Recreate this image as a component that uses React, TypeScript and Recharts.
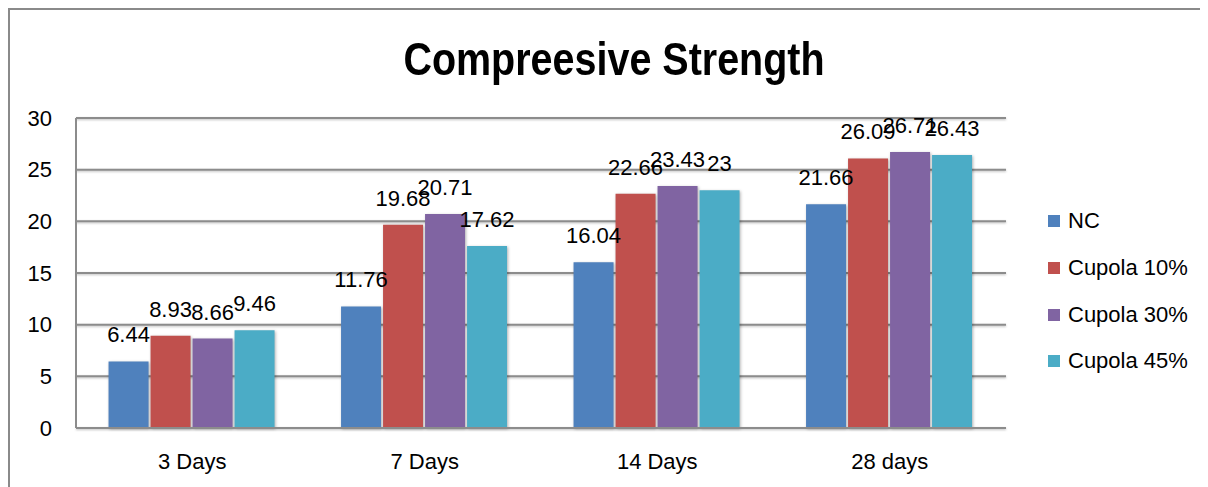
import { Bar, BarChart, CartesianGrid, LabelList, Legend, XAxis, YAxis } from 'recharts';

// ============ Data ============

const AGES = ['3 Days', '7 Days', '14 Days', '28 days'];
const NC = [6.44, 11.76, 16.04, 21.66];
const CUPOLA_10 = [8.93, 19.68, 22.66, 26.09];
const CUPOLA_30 = [8.66, 20.71, 23.43, 26.71];
const CUPOLA_45 = [9.46, 17.62, 23, 26.43];
const Y_TICKS = [0, 5, 10, 15, 20, 25, 30];

const SERIES = [
  { key: 'nc', name: 'NC', values: NC, color: '#4F81BD' },
  { key: 'c10', name: 'Cupola 10%', values: CUPOLA_10, color: '#C0504D' },
  { key: 'c30', name: 'Cupola 30%', values: CUPOLA_30, color: '#8064A2' },
  { key: 'c45', name: 'Cupola 45%', values: CUPOLA_45, color: '#4BACC6' },
];

const data = AGES.map((age, i) => {
  const row: Record<string, string | number> = { age };
  SERIES.forEach((s) => {
    row[s.key] = s.values[i];
  });
  return row;
});

const FONT = '"Liberation Sans", Arial, sans-serif';
const GRID = '#8c8c8c';

// ============ Legend ============

// keep the series order (recharts sorts the payload by name otherwise)
const LegendContent = () => (
  <ul style={{ listStyle: 'none', margin: 0, padding: 0, fontFamily: FONT, fontSize: 22, color: '#000' }}>
    {SERIES.map((s) => (
      <li key={s.key} style={{ height: 46.7, display: 'flex', alignItems: 'center', whiteSpace: 'nowrap' }}>
        <span style={{ width: 12, height: 12, background: s.color, display: 'inline-block', marginRight: 8 }} />
        {s.name}
      </li>
    ))}
  </ul>
);

// ============ Main ============

export default function App() {
  return (
    <div style={{ position: 'relative', width: 1200, height: 479, fontFamily: FONT }}>
      <style>{`
        .recharts-cartesian-grid-horizontal line { filter: drop-shadow(0 1.5px 1px rgba(0,0,0,0.25)); }
        .recharts-bar-rectangle path { filter: drop-shadow(1px 1px 1.5px rgba(0,0,0,0.3)); }
      `}</style>
      <div
        style={{
          position: 'absolute',
          left: 0,
          top: 0,
          width: 1200,
          height: 479,
          borderTop: '2px solid #8a8a8a',
          borderLeft: '2px solid #8a8a8a',
          boxSizing: 'border-box',
        }}
      />
      <div
        style={{
          position: 'absolute',
          left: 606 - 300,
          top: 27,
          width: 600,
          textAlign: 'center',
          fontSize: 47,
          lineHeight: '47px',
          fontWeight: 'bold',
          color: '#000',
          transform: 'scaleX(0.84)',
          whiteSpace: 'nowrap',
        }}
      >
        Compreesive Strength
      </div>
      <div style={{ position: 'absolute', left: 0, top: 0 }}>
        <BarChart
          width={1198}
          height={479}
          data={data}
          margin={{ top: 110, right: 200, bottom: 29, left: 0 }}
          barCategoryGap="14%"
          barGap={2}
        >
          <CartesianGrid vertical={false} stroke={GRID} strokeWidth={2} />
          <XAxis
            dataKey="age"
            axisLine={{ stroke: GRID, strokeWidth: 2 }}
            tickLine={false}
            tickMargin={19}
            tick={{ fontSize: 22, fill: '#000', fontFamily: FONT }}
          />
          <YAxis
            domain={[0, 30]}
            ticks={Y_TICKS}
            width={68}
            axisLine={{ stroke: GRID, strokeWidth: 2 }}
            tickLine={false}
            tickMargin={18}
            tick={{ fontSize: 22, fill: '#000', fontFamily: FONT }}
          />
          <Legend
            layout="vertical"
            align="center"
            verticalAlign="middle"
            content={<LegendContent />}
            wrapperStyle={{ left: 1040, top: 190, width: 160 }}
          />
          {SERIES.map((s) => (
            <Bar key={s.key} dataKey={s.key} name={s.name} fill={s.color} isAnimationActive={false}>
              <LabelList
                dataKey={s.key}
                position="top"
                offset={19}
                fill="#000"
                style={{ fontSize: 22, fontFamily: FONT }}
              />
            </Bar>
          ))}
        </BarChart>
      </div>
    </div>
  );
}
